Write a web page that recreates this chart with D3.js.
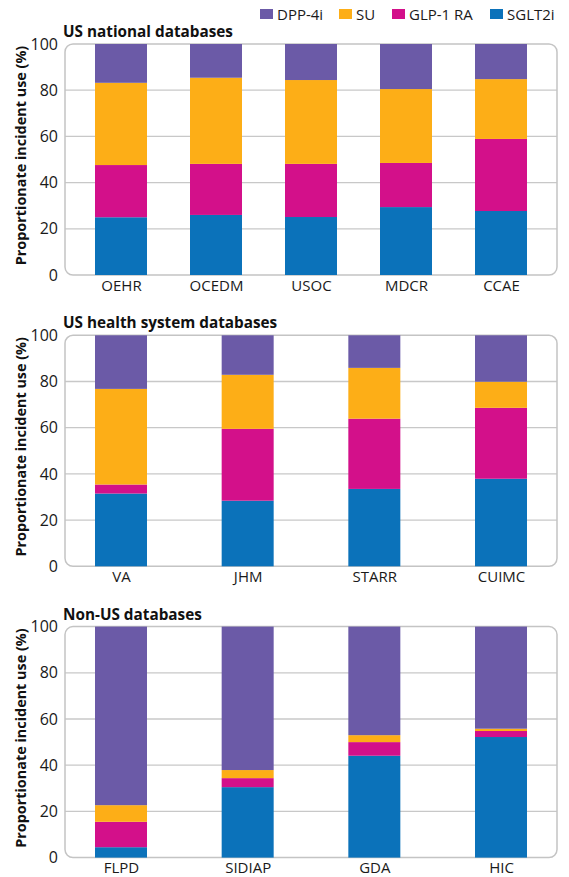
<!DOCTYPE html>
<html>
<head>
<meta charset="utf-8">
<script src="https://cdn.jsdelivr.net/npm/d3@7"></script>
<style>
  html, body { margin: 0; padding: 0; background: #fff; }
  svg { display: block; font-family: "Open Sans", "Noto Sans", sans-serif; }
</style>
</head>
<body>
<svg id="chart" width="569" height="877"></svg>
<script>
// ---- data ----
const seriesNames = ["SGLT2i", "GLP-1 RA", "SU", "DPP-4i"];
const legendOrder = ["DPP-4i", "SU", "GLP-1 RA", "SGLT2i"];
const seriesColors = ["#0b72ba", "#d3108a", "#fdae17", "#6b5aa7"];
const yTicks = [0, 20, 40, 60, 80, 100];

const panelTitles = ["US national databases", "US health system databases", "Non-US databases"];

const natCats = ["OEHR", "OCEDM", "USOC", "MDCR", "CCAE"];
const natSGLT2 = [25.0, 26.0, 25.1, 29.4, 27.7];
const natGLP1  = [22.6, 22.1, 23.0, 19.1, 31.2];
const natSU    = [35.6, 37.3, 36.3, 32.0, 25.9];
const natDPP4  = [16.8, 14.6, 15.6, 19.5, 15.2];

const hsCats = ["VA", "JHM", "STARR", "CUIMC"];
const hsSGLT2 = [31.5, 28.4, 33.5, 37.9];
const hsGLP1  = [3.9, 31.1, 30.4, 30.7];
const hsSU    = [41.4, 23.4, 22.0, 11.3];
const hsDPP4  = [23.2, 17.1, 14.1, 20.1];

const nonCats = ["FLPD", "SIDIAP", "GDA", "HIC"];
const nonSGLT2 = [4.5, 30.5, 44.1, 52.2];
const nonGLP1  = [11.0, 3.9, 5.9, 2.6];
const nonSU    = [7.2, 3.5, 3.0, 1.0];
const nonDPP4  = [77.3, 62.1, 47.0, 44.2];

const panels = [
  { title: panelTitles[0], cats: natCats, vals: [natSGLT2, natGLP1, natSU, natDPP4] },
  { title: panelTitles[1], cats: hsCats,  vals: [hsSGLT2, hsGLP1, hsSU, hsDPP4] },
  { title: panelTitles[2], cats: nonCats, vals: [nonSGLT2, nonGLP1, nonSU, nonDPP4] }
];

// ---- layout ----
const svg = d3.select("#chart");
const frameL = 65, frameR = 557;
const barW = 52;
const color = d3.scaleOrdinal().domain(seriesNames).range(seriesColors);

// legend
const legendX = { "DPP-4i": 260, "SU": 339, "GLP-1 RA": 392, "SGLT2i": 490 };
const lg = svg.append("g").attr("class", "legend");
legendOrder.forEach(name => {
  const g = lg.append("g").attr("transform", `translate(${legendX[name]},0)`);
  g.append("rect").attr("x", 0).attr("y", 9).attr("width", 13).attr("height", 10)
    .attr("fill", color(name));
  g.append("text").attr("x", 17).attr("y", 19.5).attr("font-size", 15)
    .attr("fill", "#1a1a1a").text(name);
});

panels.forEach((p, i) => {
  const off = i * 291.3;
  const yTop = 44 + off, yBot = 275 + off;
  const y = d3.scaleLinear().domain([0, 100]).range([yBot, yTop]);
  const x = d3.scalePoint().domain(p.cats).range([121, 501]);

  const g = svg.append("g");

  // title
  g.append("text").attr("x", 63).attr("y", yTop - 7)
    .attr("font-size", 15.3).attr("font-weight", 700).attr("fill", "#111")
    .text(p.title);

  // grid lines
  g.append("g").selectAll("line").data(yTicks.filter(t => t > 0 && t < 100)).join("line")
    .attr("x1", frameL).attr("x2", frameR)
    .attr("y1", d => y(d)).attr("y2", d => y(d))
    .attr("stroke", "#c8c8c8").attr("stroke-width", 1.3);

  // frame
  g.append("rect").attr("x", frameL).attr("y", yTop).attr("width", frameR - frameL)
    .attr("height", yBot - yTop).attr("rx", 8).attr("ry", 8)
    .attr("fill", "none").attr("stroke", "#c4c4c4").attr("stroke-width", 1.5);

  // y axis ticks
  const yAxis = d3.axisLeft(y).tickValues(yTicks).tickSize(0).tickPadding(0);
  const ya = g.append("g").attr("transform", `translate(58,0)`).call(yAxis);
  ya.select(".domain").remove();
  ya.selectAll("text").attr("font-size", 16).attr("fill", "#1a1a1a")
    .attr("font-family", "'Open Sans', sans-serif");

  // y label
  g.append("text")
    .attr("transform", `translate(22,${(yTop + yBot) / 2 - 4}) rotate(-90)`)
    .attr("text-anchor", "middle").attr("dominant-baseline", "middle")
    .attr("font-size", 14.4).attr("font-weight", 700).attr("fill", "#111")
    .text("Proportionate incident use (%)");

  // stacked bars
  const rows = p.cats.map((c, j) => {
    const r = { cat: c };
    seriesNames.forEach((s, k) => r[s] = p.vals[k][j]);
    return r;
  });
  const stacked = d3.stack().keys(seriesNames)(rows);
  g.append("g").selectAll("g").data(stacked).join("g")
    .attr("fill", d => color(d.key))
    .selectAll("rect").data(d => d).join("rect")
    .attr("x", d => x(d.data.cat) - barW / 2)
    .attr("width", barW)
    .attr("y", d => y(Math.min(100, d[1])))
    .attr("height", d => y(d[0]) - y(Math.min(100, d[1])));

  // x axis labels
  const xAxis = d3.axisBottom(x).tickSize(0).tickPadding(0);
  const xa = g.append("g").attr("transform", `translate(0,${yBot + 4})`).call(xAxis);
  xa.select(".domain").remove();
  xa.selectAll("text").attr("font-size", 15).attr("fill", "#1a1a1a")
    .attr("font-family", "'Open Sans', sans-serif").attr("dy", "0.78em");
});
</script>
</body>
</html>
